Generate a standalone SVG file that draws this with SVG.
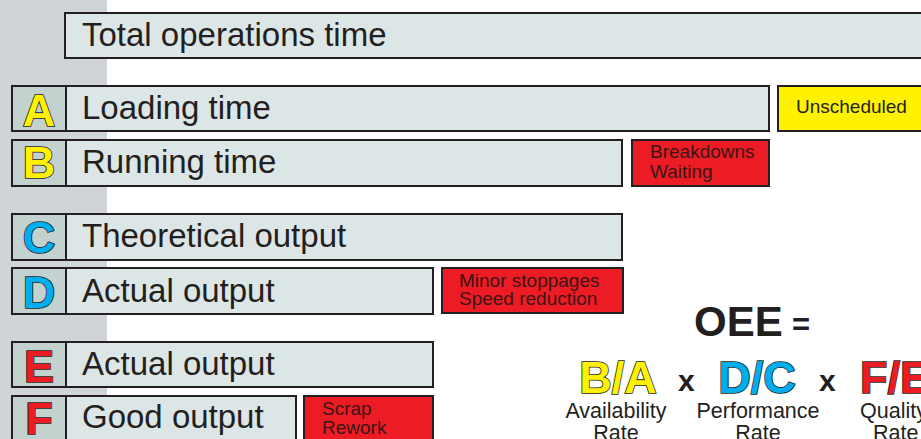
<svg xmlns="http://www.w3.org/2000/svg" width="921" height="439" viewBox="0 0 921 439">
<style>
.bar{fill:#dde6e7;stroke:#231f20;stroke-width:2}
.lbox{fill:#c4d2cf;stroke:#231f20;stroke-width:2}
.red{fill:#ed1c24;stroke:#231f20;stroke-width:2}
.yel{fill:#fff200;stroke:#231f20;stroke-width:2}
.t{font-family:"Liberation Sans",Arial,sans-serif;font-size:33px;fill:#231f20}
.s{font-family:"Liberation Sans",Arial,sans-serif;font-size:19px;fill:#231f20}
.sr{font-family:"Liberation Sans",Arial,sans-serif;font-size:19px;fill:#3a1416}
.L{font-family:"Liberation Sans",Arial,sans-serif;font-size:45px;font-weight:bold;text-anchor:middle;stroke:#231f20;stroke-width:1.6;paint-order:stroke}
.y{fill:#fff200}.b{fill:#00aeef}.r{fill:#ed1c24}
.op{font-family:"Liberation Sans",Arial,sans-serif;font-weight:bold;fill:#231f20}
.lab{font-family:"Liberation Sans",Arial,sans-serif;font-size:21.5px;fill:#231f20;text-anchor:middle}
</style>
<rect x="0" y="0" width="107" height="439" fill="#d1d4d6"/>
<g id="total"><rect class="bar" x="65" y="13" width="870" height="45"/><text class="t" x="82" y="46">Total operations time</text></g>
<g id="A"><rect class="lbox" x="12" y="86" width="54" height="45"/><rect class="bar" x="66" y="86" width="703" height="45"/><text class="L y" x="39" y="126">A</text><text class="t" x="82" y="119">Loading time</text></g>
<g id="unscheduled"><rect class="yel" x="778" y="86" width="160" height="45"/><text class="s" x="796" y="113">Unscheduled</text></g>
<g id="B"><rect class="lbox" x="12" y="140" width="54" height="46"/><rect class="bar" x="66" y="140" width="556" height="46"/><text class="L y" x="39" y="178">B</text><text class="t" x="82" y="173">Running time</text></g>
<g id="breakdowns"><rect class="red" x="632" y="140" width="137" height="46"/><text class="sr" x="650" y="158">Breakdowns</text><text class="sr" x="650" y="178">Waiting</text></g>
<g id="C"><rect class="lbox" x="12" y="214" width="54" height="46"/><rect class="bar" x="66" y="214" width="556" height="46"/><text class="L b" x="39" y="253">C</text><text class="t" x="82" y="247">Theoretical output</text></g>
<g id="D"><rect class="lbox" x="12" y="268" width="54" height="46"/><rect class="bar" x="66" y="268" width="367" height="46"/><text class="L b" x="39" y="308">D</text><text class="t" x="82" y="302">Actual output</text></g>
<g id="minor"><rect class="red" x="442" y="268" width="181" height="45"/><text class="sr" x="459" y="287">Minor stoppages</text><text class="sr" x="459" y="305">Speed reduction</text></g>
<g id="E"><rect class="lbox" x="12" y="342" width="54" height="45"/><rect class="bar" x="66" y="342" width="367" height="45"/><text class="L r" x="39" y="382">E</text><text class="t" x="82" y="375">Actual output</text></g>
<g id="F"><rect class="lbox" x="12" y="396" width="54" height="50"/><rect class="bar" x="66" y="396" width="230" height="50"/><text class="L r" x="39" y="434">F</text><text class="t" x="82" y="428">Good output</text></g>
<g id="scrap"><rect class="red" x="304" y="396" width="129" height="50"/><text class="sr" x="322" y="415">Scrap</text><text class="sr" x="322" y="434">Rework</text></g>
<g id="formula">
<text class="op" x="694" y="336" font-size="42">OEE</text>
<text class="op" x="792" y="335" font-size="31">=</text>
<text class="L y" x="618" y="393">B/A</text>
<text class="op" x="678" y="391" font-size="30">x</text>
<text class="L b" x="757" y="393">D/C</text>
<text class="op" x="819" y="391" font-size="30">x</text>
<text class="L r" x="860" y="393" text-anchor="start" style="text-anchor:start">F/E</text>
<text class="lab" x="616" y="418">Availability</text><text class="lab" x="616" y="440">Rate</text>
<text class="lab" x="758" y="418">Performance</text><text class="lab" x="758" y="440">Rate</text>
<text class="lab" x="860" y="418" style="text-anchor:start">Quality</text><text class="lab" x="873" y="440" style="text-anchor:start">Rate</text>
</g>
</svg>
